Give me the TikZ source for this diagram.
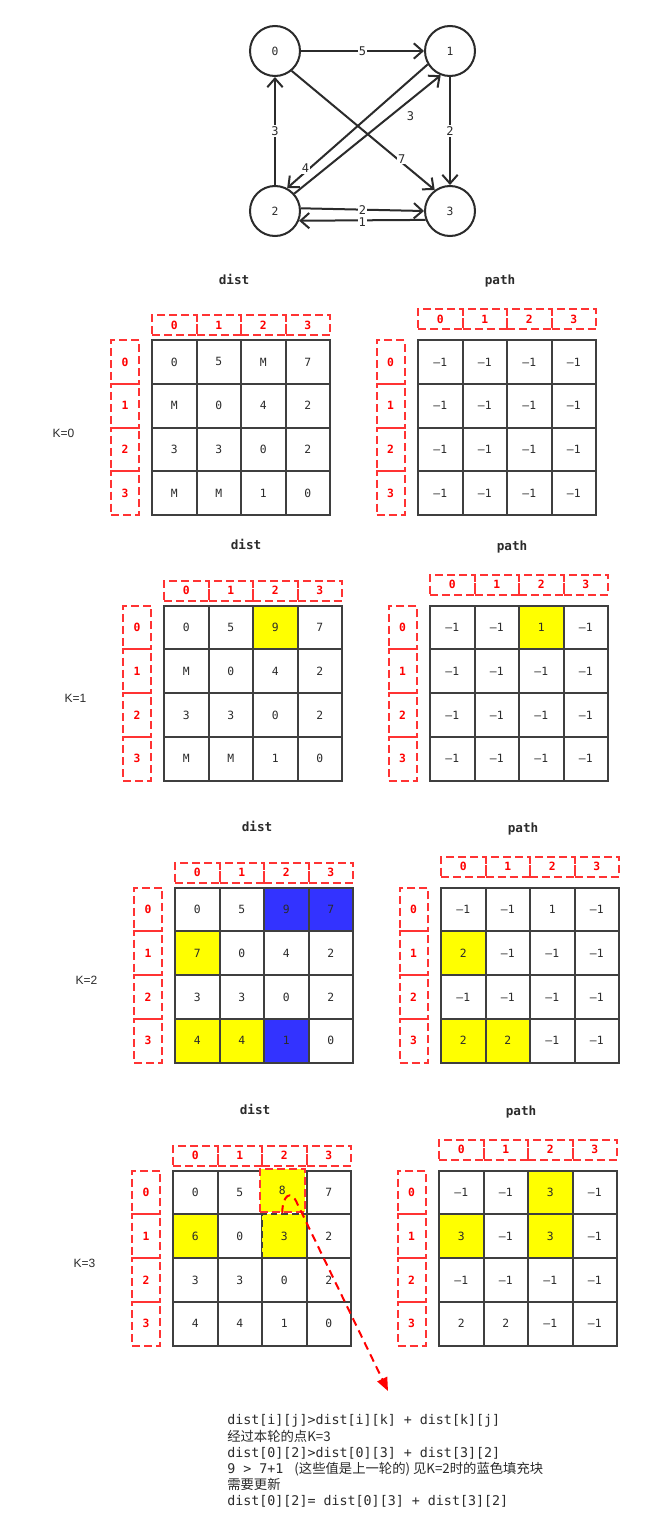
\documentclass[tikz,border=0pt]{standalone}
\usepackage{fontspec}
\setmainfont{Liberation Sans}
\newfontfamily\monof{DejaVu Sans Mono}
\newfontfamily\sansf{Liberation Sans}
\newfontfamily\cjkf{Noto Sans CJK SC}
\usetikzlibrary{arrows.meta}
\definecolor{ink}{HTML}{2B2B2B}
\definecolor{gridc}{HTML}{3F3F3F}
\definecolor{hdrred}{HTML}{FF0000}
\definecolor{dashred}{HTML}{FF3333}
\definecolor{hly}{HTML}{FFFF00}
\definecolor{hlb}{HTML}{3333FF}

\tikzset{
 cellbox/.style={draw=gridc, line width=1.5pt, minimum width=33.375pt, minimum height=32.8125pt, inner sep=0pt, text=ink, font=\monof\fontsize{8.5}{10}\selectfont},
 colhdr/.style={draw=dashred, line width=1.5pt, dash pattern=on 6pt off 3pt, minimum width=33.375pt, minimum height=15pt, inner sep=0pt, text=hdrred, font=\monof\bfseries\fontsize{8.5}{10}\selectfont},
 rowhdr/.style={colhdr, minimum width=21pt, minimum height=32.8125pt},
 titlet/.style={text=ink, font=\monof\bfseries\fontsize{9.5}{12}\selectfont},
 klab/.style={text=ink, font=\sansf\fontsize{9}{11}\selectfont},
 gnode/.style={circle, draw=ink, line width=1.5pt, minimum size=37.5pt, inner sep=0pt, text=ink, font=\monof\fontsize{8.5}{10}\selectfont},
 edge/.style={draw=ink, line width=1.5pt, -{Straight Barb[length=6.5pt,width=11.5pt]}},
 elab/.style={fill=white, inner sep=0.8pt, text=ink, font=\monof\fontsize{9}{10}\selectfont},
 notet/.style={anchor=base west, inner sep=0pt, text=ink, font=\monof\fontsize{10}{12}\selectfont},
 redarrow/.style={draw=red, line width=1.5pt, dash pattern=on 6pt off 4pt, -{Triangle[length=10pt,width=8pt]}},
 cell/d1-0-2/.style={fill=hly},
 cell/p1-0-2/.style={fill=hly},
 cell/d2-0-2/.style={fill=hlb},
 cell/d2-0-3/.style={fill=hlb},
 cell/d2-3-2/.style={fill=hlb},
 cell/d2-1-0/.style={fill=hly},
 cell/d2-3-0/.style={fill=hly},
 cell/d2-3-1/.style={fill=hly},
 cell/p2-1-0/.style={fill=hly},
 cell/p2-3-0/.style={fill=hly},
 cell/p2-3-1/.style={fill=hly},
 cell/d3-0-2/.style={fill=hly, draw=dashred, dash pattern=on 6pt off 3pt, xshift=-1.5pt, yshift=1.5pt},
 cell/d3-1-0/.style={fill=hly},
 cell/d3-1-2/.style={fill=hly, dash pattern=on 5pt off 3pt},
 cell/p3-0-2/.style={fill=hly},
 cell/p3-1-0/.style={fill=hly},
 cell/p3-1-2/.style={fill=hly},
}

% #1 name, #2 x0, #3 y0, #4 rows, #5 column-header y, #6 row-header x
\newcommand\mktable[6]{%
  \foreach \row [count=\ri from 0] in {#4}{%
    \foreach \v [count=\ci from 0] in \row {%
      \node[cellbox, cell/#1-\ri-\ci/.try] (#1-\ri-\ci) at ({#2+(\ci+0.5)*44.5},{#3+(\ri+0.5)*43.75}) {\v};
    }%
  }%
  \foreach \ci in {0,1,2,3}{%
    \node[colhdr] (#1-ch\ci) at ({#2+(\ci+0.5)*44.5},#5) {\ci};
    \node[rowhdr] (#1-rh\ci) at (#6,{#3+(\ci+0.5)*43.75}) {\ci};
  }%
}

% #1 k, #2 dx, #3 dy, #4 dist rows, #5 path rows
\newcommand\ksect[5]{%
  \begin{scope}[shift={(#2,#3)}]
    \node[titlet] (t-d#1) at (234,279) {dist};
    \node[titlet] (t-p#1) at (500,281) {path};
    \node[klab] (k#1) at (63.5,433) {K=#1};
    \mktable{d#1}{152}{340}{#4}{325}{125}
    \mktable{p#1}{418}{340}{#5}{319}{390.5}
  \end{scope}
}

\begin{document}
\begin{tikzpicture}[x=0.75pt, y=-0.75pt]
\useasboundingbox (0,0) rectangle (644,1531);
\fill[white] (0,0) rectangle (644,1531);

% graph
\node[gnode] (n0) at (275,51) {0};
\node[gnode] (n1) at (450,51) {1};
\node[gnode] (n2) at (275,211) {2};
\node[gnode] (n3) at (450,211) {3};
\draw[edge] (n0.east) -- node[elab]{5} (n1.west);
\draw[edge] (n1.south) -- node[elab]{2} (n3.north);
\draw[edge] (n2.north) -- node[elab]{3} (n0.south);
\draw[edge] (n0.-50) -- node[elab,pos=0.76,xshift=1pt,yshift=2pt]{7} (n3.126);
\draw[edge] (n1.211) -- node[elab,pos=0.86,xshift=-1pt,yshift=2pt]{4} (n2.62);
\draw[edge] (n2.42) -- node[elab,pos=0.73,xshift=7pt,yshift=-6.5pt]{3} (n1.249);
\draw[edge] (n2.6) -- node[elab]{2} (n3.180);
\draw[edge] (n3.200) -- node[elab,yshift=-1.5pt]{1} (n2.338);

% tables
\ksect{0}{0}{0}{{0,5,M,7},{M,0,4,2},{3,3,0,2},{M,M,1,0}}{{–1,–1,–1,–1},{–1,–1,–1,–1},{–1,–1,–1,–1},{–1,–1,–1,–1}}
\ksect{1}{12}{265.5}{{0,5,9,7},{M,0,4,2},{3,3,0,2},{M,M,1,0}}{{–1,–1,1,–1},{–1,–1,–1,–1},{–1,–1,–1,–1},{–1,–1,–1,–1}}
\ksect{2}{23}{547.5}{{0,5,9,7},{7,0,4,2},{3,3,0,2},{4,4,1,0}}{{–1,–1,1,–1},{2,–1,–1,–1},{–1,–1,–1,–1},{2,2,–1,–1}}
\ksect{3}{21}{830.5}{{0,5,8,7},{6,0,3,2},{3,3,0,2},{4,4,1,0}}{{–1,–1,3,–1},{3,–1,3,–1},{–1,–1,–1,–1},{2,2,–1,–1}}

% red dashed pointer
\coordinate (bendpt) at (297,1203);
\coordinate (tipend) at (388,1391);
\draw[redarrow] (d3-0-2.south) .. controls +(0,-18) and +(-6,-14) .. (bendpt) -- (tipend);

% notes
\node[notet] (note1) at (227,1424) {dist[i][j]>dist[i][k] + dist[k][j]};
\node[notet] (note2) at (227,1441) {\cjkf 经过本轮的点K=3};
\node[notet] (note3) at (227,1457) {dist[0][2]>dist[0][3] + dist[3][2]};
\node[notet] (note4) at (227,1473) {9 > 7+1 {\cjkf\ (这些值是上一轮的) 见K=2时的蓝色填充块}};
\node[notet] (note5) at (227,1489) {\cjkf 需要更新};
\node[notet] (note6) at (227,1505) {dist[0][2]= dist[0][3] + dist[3][2]};
\end{tikzpicture}
\end{document}
